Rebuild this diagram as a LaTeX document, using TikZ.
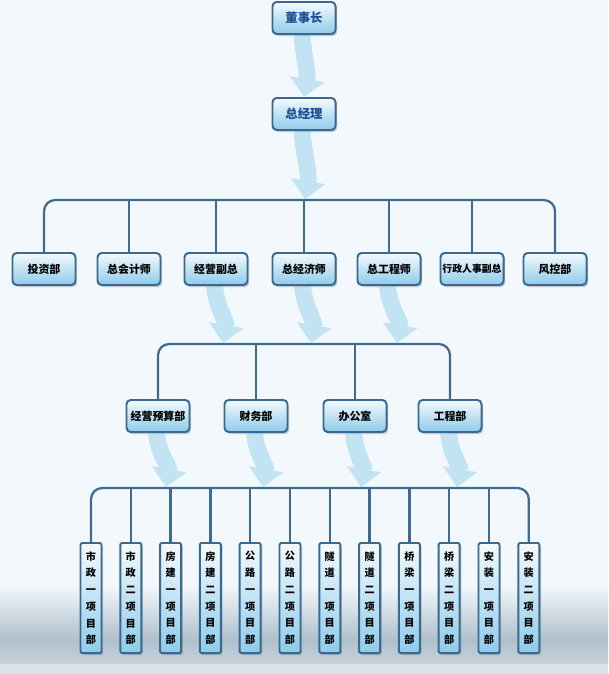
\documentclass[tikz,border=0pt]{standalone}
\usepackage{fontspec}
\usepackage{tikz}
\usetikzlibrary{arrows.meta, shadows}
\newfontfamily\cjk{Noto Sans CJK SC}
\definecolor{boxline}{HTML}{3A6A90}
\definecolor{boxtop}{HTML}{F4FAFD}
\definecolor{boxbot}{HTML}{8ECBEA}
\definecolor{busline}{HTML}{3E6B94}
\definecolor{arrowfill}{HTML}{C2E3F4}
\definecolor{bgtop}{HTML}{F3F8FC}
\definecolor{bgsea}{HTML}{AFC0CC}
\definecolor{titleblue}{HTML}{1D4F8F}
\pgfdeclarelayer{back}
\pgfsetlayers{back,main}

\begin{document}
\begin{tikzpicture}[
  x=0.025cm, y=-0.025cm,
  unit/.style={draw=boxline, line width=1.4pt, rounded corners=3pt,
               top color=boxtop, bottom color=boxbot,
               minimum width=1.575cm, minimum height=0.8cm, inner sep=0pt,
               drop shadow={shadow xshift=1.2pt, shadow yshift=-1.5pt, opacity=0.4},
               font=\cjk\bfseries\fontsize{7.8}{9}\selectfont},
  head/.style={unit, text=titleblue, font=\cjk\bfseries\fontsize{8.8}{10}\selectfont},
  proj/.style={draw=boxline, line width=1.4pt, rounded corners=1pt,
               top color=boxtop, middle color=boxtop!85!boxbot, bottom color=boxbot,
               minimum width=0.525cm, minimum height=2.75cm, inner sep=0pt,
               align=center,
               drop shadow={shadow xshift=1.2pt, shadow yshift=-1.5pt, opacity=0.4},
               font=\cjk\bfseries\fontsize{7.2}{11.9}\selectfont},
  bus/.style={busline, line width=1.6pt, rounded corners=8pt},
  fat/.style={arrowfill, line width=0.42cm,
              -{Triangle[width=0.85cm, length=0.45cm]}},
]

% background
\begin{pgfonlayer}{back}
\fill[bgtop] (0,0) rectangle (608,674);
\shade[top color=bgtop, bottom color=bgsea] (0,585) rectangle (608,640);
\shade[top color=bgsea, bottom color=bgsea!70!white] (0,640) rectangle (608,664);
\fill[bgtop!60!bgsea] (0,664) rectangle (608,674);
\end{pgfonlayer}

% top
\node[head] (dsz) at (304, 18) {董事长};
\node[head] (zjl) at (304, 114) {总经理};

% second row
\node[unit] (tzb)  at (44, 269)  {投资部};
\node[unit] (zkj)  at (129, 269) {总会计师};
\node[unit] (jyfz) at (216, 269) {经营副总};
\node[unit] (zjj)  at (304, 269) {总经济师};
\node[unit] (zgc)  at (389, 269) {总工程师};
\node[unit, font=\cjk\bfseries\fontsize{7}{9}\selectfont] (xzfz) at (472, 269) {行政人事副总};
\node[unit] (fkb)  at (555, 269) {风控部};

% third row
\node[unit] (ysb) at (158, 416) {经营预算部};
\node[unit] (cwb) at (256, 416) {财务部};
\node[unit] (bgs) at (355, 416) {办公室};
\node[unit] (gcb) at (450, 416) {工程部};

% project departments
\node[proj] (p1)  at (91.0, 598)  {市\\政\\一\\项\\目\\部};
\node[proj] (p2)  at (130.8, 598) {市\\政\\二\\项\\目\\部};
\node[proj] (p3)  at (170.6, 598) {房\\建\\一\\项\\目\\部};
\node[proj] (p4)  at (210.4, 598) {房\\建\\二\\项\\目\\部};
\node[proj] (p5)  at (250.2, 598) {公\\路\\一\\项\\目\\部};
\node[proj] (p6)  at (290.0, 598) {公\\路\\二\\项\\目\\部};
\node[proj] (p7)  at (329.8, 598) {隧\\道\\一\\项\\目\\部};
\node[proj] (p8)  at (369.6, 598) {隧\\道\\二\\项\\目\\部};
\node[proj] (p9)  at (409.4, 598) {桥\\梁\\一\\项\\目\\部};
\node[proj] (p10) at (449.2, 598) {桥\\梁\\二\\项\\目\\部};
\node[proj] (p11) at (489.0, 598) {安\\装\\一\\项\\目\\部};
\node[proj] (p12) at (528.8, 598) {安\\装\\二\\项\\目\\部};

% bus levels and arrow tips
\coordinate (bus1) at (0, 200);
\coordinate (bus2) at (0, 344);
\coordinate (bus3) at (0, 488);
\coordinate (t0) at (305, 199);
\coordinate (t1) at (223, 343);
\coordinate (t2) at (311, 343);
\coordinate (t3) at (397, 343);
\coordinate (t4) at (166, 487);
\coordinate (t5) at (263, 487);
\coordinate (t6) at (361, 487);
\coordinate (t7) at (457, 487);

% bus lines
\draw[bus] (tzb.north) |- (fkb.north |- bus1) -- (fkb.north);
\draw[bus] (zkj.north) -- (zkj.north |- bus1);
\draw[bus] (jyfz.north) -- (jyfz.north |- bus1);
\draw[bus] (zjj.north) -- (zjj.north |- bus1);
\draw[bus] (zgc.north) -- (zgc.north |- bus1);
\draw[bus] (xzfz.north) -- (xzfz.north |- bus1);

\draw[bus] (ysb.north) |- (gcb.north |- bus2) -- (gcb.north);
\draw[bus] (cwb.north) -- (cwb.north |- bus2);
\draw[bus] (bgs.north) -- (bgs.north |- bus2);

\draw[bus] (p1.north) |- (p12.north |- bus3) -- (p12.north);
\draw[bus] (p2.north) -- (p2.north |- bus3);
\draw[bus] (p3.north) -- (p3.north |- bus3);
\draw[bus] (p4.north) -- (p4.north |- bus3);
\draw[bus] (p5.north) -- (p5.north |- bus3);
\draw[bus] (p6.north) -- (p6.north |- bus3);
\draw[bus] (p7.north) -- (p7.north |- bus3);
\draw[bus] (p8.north) -- (p8.north |- bus3);
\draw[bus] (p9.north) -- (p9.north |- bus3);
\draw[bus] (p10.north) -- (p10.north |- bus3);
\draw[bus] (p11.north) -- (p11.north |- bus3);

% flow arrows
\begin{pgfonlayer}{back}
\draw[fat] (dsz.-97) to[out=-85, in=80] (zjl.north);
\draw[fat] (zjl.-97) to[out=-85, in=80] (t0);
\draw[fat] (jyfz.-95) to[out=-85, in=80] (t1);
\draw[fat] (zjj.-95) to[out=-85, in=80] (t2);
\draw[fat] (zgc.-95) to[out=-85, in=80] (t3);
\draw[fat] (ysb.-95) to[out=-85, in=80] (t4);
\draw[fat] (cwb.-95) to[out=-85, in=80] (t5);
\draw[fat] (bgs.-95) to[out=-85, in=80] (t6);
\draw[fat] (gcb.-95) to[out=-85, in=80] (t7);
\end{pgfonlayer}

\end{tikzpicture}
\end{document}
